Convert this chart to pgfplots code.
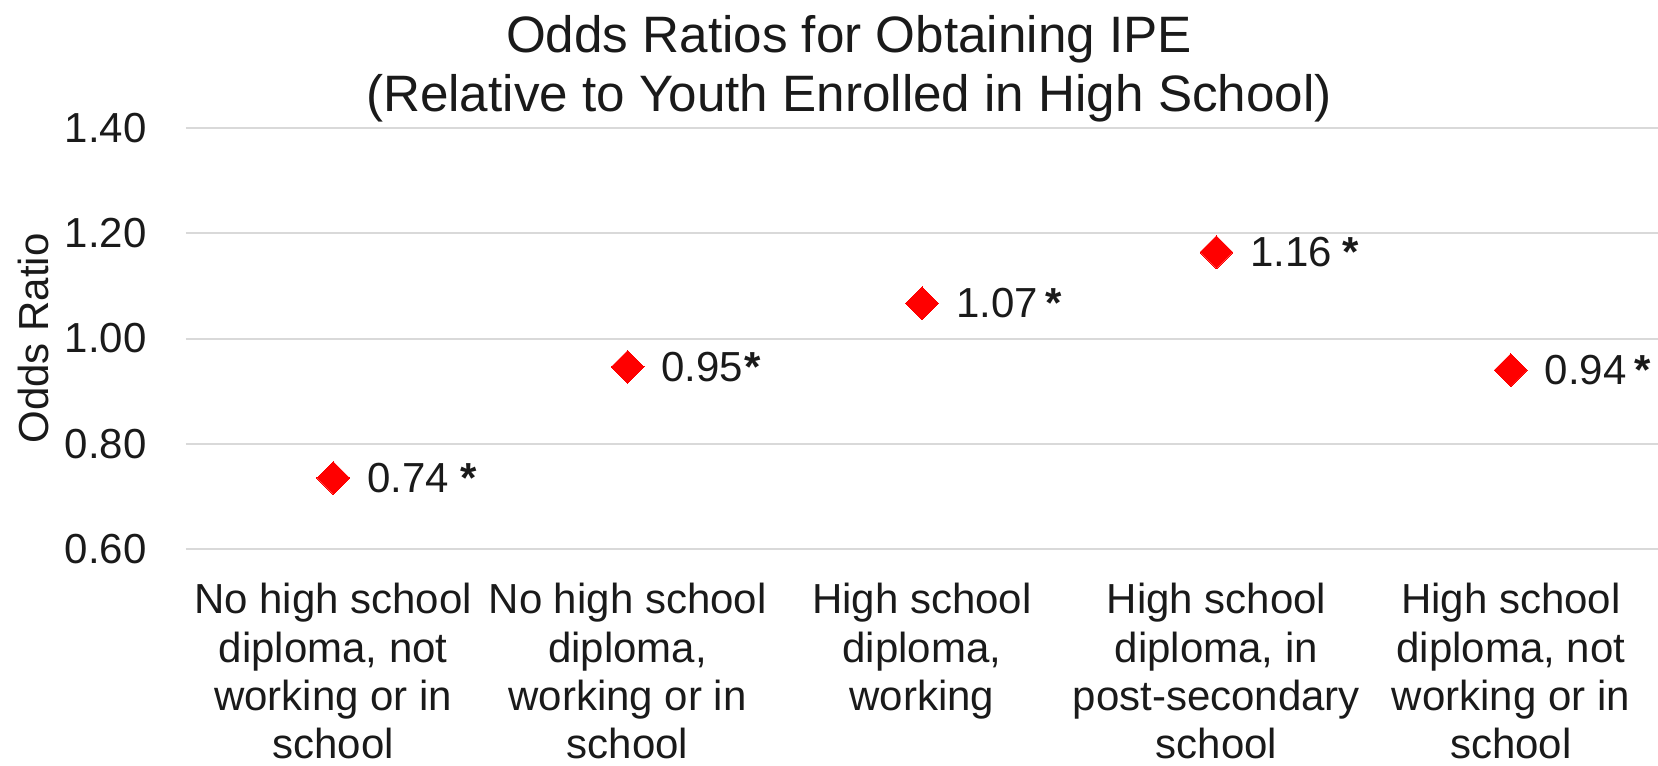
\documentclass[border=0pt]{standalone}
\usepackage{fontspec}
\setmainfont{Liberation Sans}
\usepackage{pgfplots}
\pgfplotsset{compat=1.18}
\definecolor{gridgray}{HTML}{D9D9D9}
\definecolor{txt}{HTML}{1A1A1A}
\definecolor{mred}{HTML}{FF0000}
\begin{document}
\begin{tikzpicture}
\begin{axis}[
  scale only axis, width=736pt, height=210.5pt,
  xmin=-0.5, xmax=4.5, ymin=0.6, ymax=1.4,
  ytick={0.6,0.8,1.0,1.2,1.4},
  xtick={0,1,2,3,4},
  xticklabels={{No high school\\diploma, not\\working or in\\school},
               {No high school\\diploma,\\working or in\\school},
               {High school\\diploma,\\working},
               {High school\\diploma, in\\post-secondary\\school},
               {High school\\diploma, not\\working or in\\school}},
  axis line style={draw=none},
  major tick length=0pt,
  ymajorgrids, grid style={gridgray, line width=1pt},
  /pgf/number format/fixed, /pgf/number format/fixed zerofill, /pgf/number format/precision=2,
  /pgf/number format/assume math mode=true,
  yticklabel style={anchor=east, inner sep=0pt, xshift=-19.5pt, font=\fontsize{21}{24}\selectfont, text=txt},
  xticklabel style={anchor=north, align=center, inner sep=0pt, yshift=-17pt, font=\fontsize{21}{24.15}\selectfont, text=txt},
  clip=false,
  nodes near coords, point meta=explicit symbolic,
  every node near coord/.append style={anchor=west, inner sep=0pt, xshift=17pt, font=\fontsize{21}{24}\selectfont, text=txt},
]
\addplot[color=mred, only marks, mark=square*, mark size=5.8pt, mark options={rotate=45, fill=mred, draw=mred, line width=0pt}]
  coordinates {
    (0,0.735) [{0.74\hspace{6pt}\textbf{*}}]
    (1,0.946) [{0.95\hspace{0.5pt}\textbf{*}}]
    (2,1.067) [{1.07\hspace{4pt}\textbf{*}}]
    (3,1.164) [{1.16\hspace{5pt}\textbf{*}}]
    (4,0.940) [{0.94\hspace{4pt}\textbf{*}}]
  };
\node[anchor=base, inner sep=0pt, font=\fontsize{25.6}{29}\selectfont, text=txt] at ([xshift=331.5pt, yshift=37.5pt]rel axis cs:0,1) {Odds Ratios for Obtaining IPE};
\node[anchor=base, inner sep=0pt, font=\fontsize{25.6}{29}\selectfont, text=txt] at ([xshift=331.5pt, yshift=8pt]rel axis cs:0,1) {(Relative to Youth Enrolled in High School)};
\node[rotate=90, inner sep=0pt, font=\fontsize{21}{24}\selectfont, text=txt] at ([xshift=-76.5pt]rel axis cs:0,0.5) {Odds Ratio};
\end{axis}
\pgfresetboundingbox
\path ([xshift=-93pt, yshift=64pt]current axis.north west) rectangle ([yshift=-108pt]current axis.south east);
\end{tikzpicture}
\end{document}
